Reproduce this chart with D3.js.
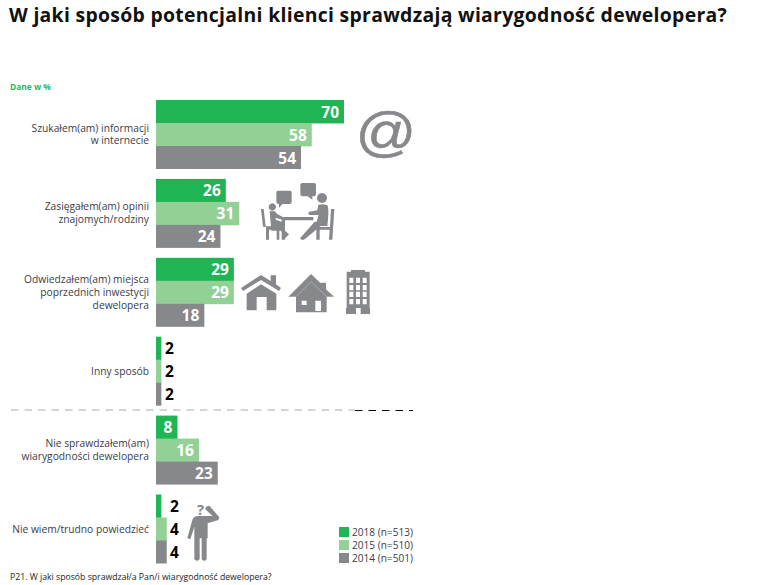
<!DOCTYPE html>
<html lang="pl">
<head>
<meta charset="utf-8">
<style>
html,body{margin:0;padding:0;background:#fff}
svg{display:block}
text{font-family:"Open Sans","Noto Sans",sans-serif}
</style>
<script src="https://cdn.jsdelivr.net/npm/d3@7/dist/d3.min.js"></script>
</head>
<body>
<div id="chart"></div>
<script>
const categories = [
  ["Szukałem(am) informacji", "w internecie"],
  ["Zasięgałem(am) opinii", "znajomych/rodziny"],
  ["Odwiedzałem(am) miejsca", "poprzednich inwestycji", "dewelopera"],
  ["Inny sposób"],
  ["Nie sprawdzałem(am)", "wiarygodności dewelopera"],
  ["Nie wiem/trudno powiedzieć"]
];
const seriesNames = ["2018 (n=513)", "2015 (n=510)", "2014 (n=501)"];
const values2018 = [70, 26, 29, 2, 8, 2];
const values2015 = [58, 31, 29, 2, 16, 4];
const values2014 = [54, 24, 18, 2, 23, 4];
const seriesColors = ["#1fb554", "#93d095", "#87888b"];
const titleText = "W jaki sposób potencjalni klienci sprawdzają wiarygodność dewelopera?";
const unitNote = "Dane w %";
const footnote = "P21. W jaki sposób sprawdzał/a Pan/i wiarygodność dewelopera?";

const W = 758, H = 585, ICON = "#87888b";
const svg = d3.select("#chart").append("svg").attr("width", W).attr("height", H);

const x = d3.scaleLinear().domain([0, 70]).range([156, 344]);
const inner = d3.scaleBand().domain(d3.range(3)).range([0, 69]);
const groupTop = d3.scaleLinear().domain([0, 5]).range([100, 494.5]);
const allSeries = [values2018, values2015, values2014];

svg.append("text").attr("x", 9).attr("y", 22)
  .attr("font-size", 19.4).attr("font-weight", 700).attr("letter-spacing", 0.3).attr("fill", "#111")
  .text(titleText);

svg.append("text").attr("x", 10).attr("y", 90)
  .attr("font-size", 8.4).attr("font-weight", 700).attr("fill", "#2bb866")
  .text(unitNote);

// Bars, one group per answer
const groups = svg.append("g").selectAll("g").data(categories).join("g")
  .attr("transform", (d, i) => `translate(0,${groupTop(i)})`);

groups.each(function (cat, i) {
  const g = d3.select(this);
  allSeries.forEach((vals, s) => {
    const v = vals[i];
    g.append("rect")
      .attr("x", x(0)).attr("y", inner(s))
      .attr("width", x(v) - x(0)).attr("height", inner.bandwidth() + (s < 2 ? 0.4 : 0))
      .attr("fill", seriesColors[s]);
    const small = v < 5;
    g.append("text")
      .attr("x", small ? (i === 3 ? 165 : 170) : x(v) - 5)
      .attr("y", inner(s) + inner.bandwidth() / 2 + 6)
      .attr("text-anchor", small ? "start" : "end")
      .attr("font-size", 15.5).attr("font-weight", 700)
      .attr("fill", small ? "#000" : "#fff")
      .text(v);
  });
  const lh = 12.8, n = cat.length;
  const t = g.append("text").attr("text-anchor", "end")
    .attr("font-size", 10.25).attr("fill", "#3c3c46");
  cat.forEach((line, k) => {
    t.append("tspan").attr("x", 149)
      .attr("y", 34.5 + 3.5 + (k - (n - 1) / 2) * lh)
      .text(line);
  });
});

// Separator between answers and non-answers
const sep = svg.append("g").attr("fill", "none").attr("stroke-width", 1).attr("stroke-dasharray", "7.5,6");
sep.append("line").attr("x1", 11).attr("x2", 355).attr("y1", 410).attr("y2", 410).attr("stroke", "#aaa");
sep.append("line").attr("x1", 355).attr("x2", 413).attr("y1", 410.5).attr("y2", 410.5).attr("stroke", "#000");

// Legend
const legend = svg.append("g").selectAll("g").data(seriesNames).join("g")
  .attr("transform", (d, i) => `translate(339,${527 + i * 13})`);
legend.append("rect").attr("width", 10).attr("height", 10).attr("fill", (d, i) => seriesColors[i]);
legend.append("text").attr("x", 13).attr("y", 9).attr("font-size", 10.1).attr("fill", "#3c3c46").text(d => d);

svg.append("text").attr("x", 10).attr("y", 580)
  .attr("font-size", 8.7).attr("fill", "#222").text(footnote);

// Pictograms, each path drawn in a 3× local grid
const icons = svg.append("g").attr("fill", ICON);
const third = (ox, oy) => `translate(${ox},${oy}) scale(${1 / 3})`;

icons.append("text").attr("transform", "translate(386,150) scale(1,.89)").attr("text-anchor", "middle")
  .attr("font-size", 60).attr("stroke", ICON).attr("stroke-width", 0.6)
  .style("font-family", "Liberation Sans").text("@");

// Two people talking at a table
icons.append("path").attr("transform", third(255, 178)).attr("d", [
  // speech bubbles
  "M70 38h34q6 0 6 6v28q0 6-6 6h-22l-10 12v-12h-2q-6 0-6-6v-28q0-6 6-6z",
  "M142 15h35q6 0 6 6v28q0 6-6 6h-5v10l-14-10h-16q-6 0-6-6v-28q0-6 6-6z",
  // left person and chair
  "M52 76a11 11 0 1 0 .01 0z",
  "M18 93h8l6 52h46v10h-5v30h-8v-30h-23v30h-9v-38l-9-1z",
  "M44 100h16l6 8 18 9-2 8-20-6v6l18 6 4 22 18 16-4 4-8 8h-7l6-9-12-14h-28z",
  // table
  "M80 117h95v10h-85v58h-10z",
  // right person and chair
  "M201 45a15 15 0 1 0 .01 0z",
  "M190 80q16-4 27 2 6 8 0 62l-20 0-48 40q-8 5-14-3l44-50h6l6-20h-28q-6-5 0-10l24-4z",
  "M228 93h10l-6 92h-10l2-30h-30v30h-10v-38h41z"
].join(""));

// Detached house with chimney
icons.append("path").attr("transform", third(230, 170)).attr("fill-rule", "evenodd").attr("d",
  "M93 315l29 18v-17h16v27l15 11-6 9-54-33-54 33-6-9z" +
  "M93 343l46 28v50h-29v-40h-30v40h-30v-50z");

// House with a wide gable and a pale inner roof line
icons.append("path").attr("transform", third(230, 170)).attr("fill-rule", "evenodd").attr("d",
  "M243 312l29 28v-2h16v20l24 22h-22v47h-92v-47h-23z" +
  "M256 392v31h17v-31zM215 392v13h15v-13z");
icons.append("path").attr("transform", third(230, 170)).attr("fill", "none")
  .attr("stroke", "#c9cacc").attr("stroke-width", 1.5)
  .attr("d", "M198 380l45-45 47 45");

// Apartment block with a grid of windows
const blockCols = [358, 378, 398], blockRows = [323, 345, 365, 387];
let blockPath = "M363 300h42v5h14v108h1v19h-28v-18h-14v18h-30v-19h2v-108h13z";
blockRows.forEach(r => blockCols.forEach(c => { blockPath += `M${c} ${r}h12v16h-12z`; }));
icons.append("path").attr("transform", third(230, 170)).attr("fill-rule", "evenodd").attr("d", blockPath);

// Puzzled figure: torso, legs, left arm and a bent right arm reaching the head
icons.append("path").attr("transform", third(170, 490)).attr("d",
  "M82 78h31h15l-22-20 2-8 10-3 30 35-3 8-32 10v45h-3v62q-1 5-7 5t-8-5v-62h-6v62q-2 5-8 5t-8-5v-97l-12 38-9-4 14-50q3-15 16-16z");
icons.append("text").attr("x", 200.5).attr("y", 515).attr("text-anchor", "middle")
  .attr("font-size", 15).attr("font-weight", 700).text("?");
</script>
</body>
</html>
